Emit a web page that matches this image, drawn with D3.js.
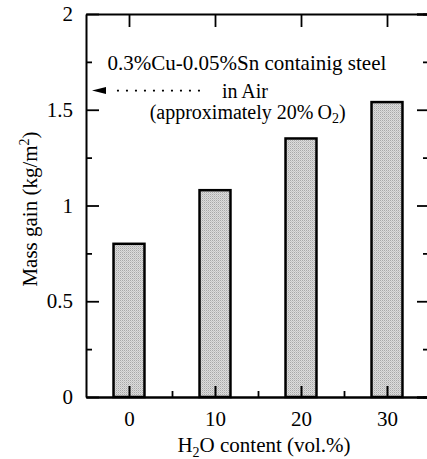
<!DOCTYPE html>
<html>
<head>
<meta charset="utf-8">
<script src="https://cdn.jsdelivr.net/npm/d3@7"></script>
<style>
  body { margin: 0; background: #fff; }
  svg text { font-family: "Liberation Serif", "DejaVu Serif", serif; font-size: 21px; fill: #000; }
</style>
</head>
<body>
<svg id="chart" width="427" height="459"></svg>
<script>
// data
const h2oContent = [0, 10, 20, 30];
const massGain = [0.80, 1.08, 1.35, 1.54];
const yTicks = [0, 0.5, 1, 1.5, 2];
const airLevel = 1.6;

const svg = d3.select('#chart');
const margin = { top: 14, right: -3, bottom: 62, left: 86 };
const width = 427 - margin.left - margin.right;
const height = 459 - margin.top - margin.bottom;

// halftone-like fill for the bars
const pat = svg.append('defs').append('pattern')
  .attr('id', 'dots')
  .attr('width', 2)
  .attr('height', 2)
  .attr('patternUnits', 'userSpaceOnUse');
pat.append('rect').attr('width', 2).attr('height', 2).attr('fill', '#dcdcdc');
pat.append('rect').attr('width', 1).attr('height', 1).attr('fill', '#a8a8a8');
pat.append('rect').attr('x', 1).attr('y', 1).attr('width', 1).attr('height', 1).attr('fill', '#c4c4c4');

const g = svg.append('g')
  .attr('transform', 'translate(' + margin.left + ',' + margin.top + ')');

const x = d3.scaleLinear().domain([-5, 35]).range([0, width]);
const y = d3.scaleLinear().domain([0, 2]).range([height, 0]);

const barHalf = 1.8;

// bars
g.selectAll('.bar')
  .data(h2oContent)
  .enter()
  .append('rect')
  .attr('class', 'bar')
  .attr('x', (d) => x(d - barHalf))
  .attr('width', x(barHalf) - x(-barHalf))
  .attr('y', (d, i) => y(massGain[i]))
  .attr('height', (d, i) => height - y(massGain[i]))
  .attr('fill', 'url(#dots)')
  .attr('stroke', '#000')
  .attr('stroke-width', 2.5);

// left axis
const yLeft = g.append('g')
  .call(d3.axisLeft(y).tickValues(yTicks).tickSizeInner(-13).tickSizeOuter(0)
    .tickFormat(d3.format('')).tickPadding(13));
yLeft.select('.domain').attr('stroke-width', 2);
yLeft.selectAll('.tick line').attr('stroke-width', 1.8);
yLeft.selectAll('text').style('font-size', '21px').style('font-family', 'Liberation Serif');

g.append('g')
  .call(d3.axisLeft(y).tickValues(d3.range(0.25, 2, 0.5)).tickSize(-6).tickFormat(''))
  .call((a) => a.select('.domain').remove())
  .selectAll('.tick line').attr('stroke-width', 1.8);

// right axis
const yRight = g.append('g')
  .attr('transform', 'translate(' + width + ',0)');
yRight.append('g')
  .call(d3.axisRight(y).tickValues(yTicks).tickSize(-13).tickFormat(''))
  .selectAll('.tick line').attr('stroke-width', 1.8);
yRight.append('g')
  .call(d3.axisRight(y).tickValues(d3.range(0.25, 2, 0.5)).tickSize(-7).tickFormat(''))
  .selectAll('.tick line').attr('stroke-width', 1.8);
yRight.selectAll('.domain').attr('stroke-width', 2);

// bottom axis
const xBottom = g.append('g')
  .attr('transform', 'translate(0,' + height + ')')
  .call(d3.axisBottom(x).tickValues(h2oContent).tickSizeInner(-11).tickSizeOuter(0).tickPadding(14));
xBottom.select('.domain').attr('stroke-width', 2.5);
xBottom.selectAll('.tick line').attr('stroke-width', 2);
xBottom.selectAll('text').style('font-size', '21px').style('font-family', 'Liberation Serif');

g.append('g')
  .attr('transform', 'translate(0,' + height + ')')
  .call(d3.axisBottom(x).tickValues([5, 15, 25]).tickSize(-6).tickFormat(''))
  .call((a) => a.select('.domain').remove())
  .selectAll('.tick line').attr('stroke-width', 1.8);

// top axis
g.append('g')
  .call(d3.axisTop(x).tickValues(h2oContent).tickSize(-13).tickSizeOuter(0).tickFormat(''))
  .call((a) => a.select('.domain').attr('stroke-width', 2))
  .selectAll('.tick line').attr('stroke-width', 1.8);

// annotation: air level arrow
g.append('line')
  .attr('x1', x(-1.4))
  .attr('x2', x(8.3))
  .attr('y1', y(airLevel))
  .attr('y2', y(airLevel))
  .attr('stroke', '#000')
  .attr('stroke-width', 1.6)
  .attr('stroke-dasharray', '2,7');

g.append('path')
  .attr('d', 'M' + x(-4.3) + ',' + y(airLevel) + 'L' + (x(-4.3) + 14) + ',' + (y(airLevel) - 3.5)
    + 'L' + (x(-4.3) + 14) + ',' + (y(airLevel) + 3.5) + 'Z')
  .attr('fill', '#000');

g.append('text')
  .attr('x', x(-2.5))
  .attr('y', 56)
  .text('0.3%Cu-0.05%Sn containig steel');

g.append('text')
  .attr('x', x(10.8))
  .attr('y', 84)
  .style('font-size', '20px')
  .text('in Air');

const approx = g.append('text')
  .attr('x', x(2.4))
  .attr('y', 105)
  .style('font-size', '20px');
approx.append('tspan').text('(approximately 20%\u2009O');
approx.append('tspan').attr('dy', 4).style('font-size', '14px').text('2');
approx.append('tspan').attr('dy', -4).text(')');

// axis titles
const xTitle = svg.append('text')
  .attr('x', 264)
  .attr('y', 452)
  .attr('text-anchor', 'middle');
xTitle.append('tspan').text('H');
xTitle.append('tspan').attr('dy', 5).style('font-size', '14px').text('2');
xTitle.append('tspan').attr('dy', -5).text('O content (vol.%)');

const yTitle = svg.append('text')
  .attr('transform', 'translate(37,209) rotate(-90)')
  .attr('text-anchor', 'middle');
yTitle.append('tspan').text('Mass gain (kg/m');
yTitle.append('tspan').attr('dy', -8).style('font-size', '14px').text('2');
yTitle.append('tspan').attr('dy', 8).text(')');
</script>
</body>
</html>
